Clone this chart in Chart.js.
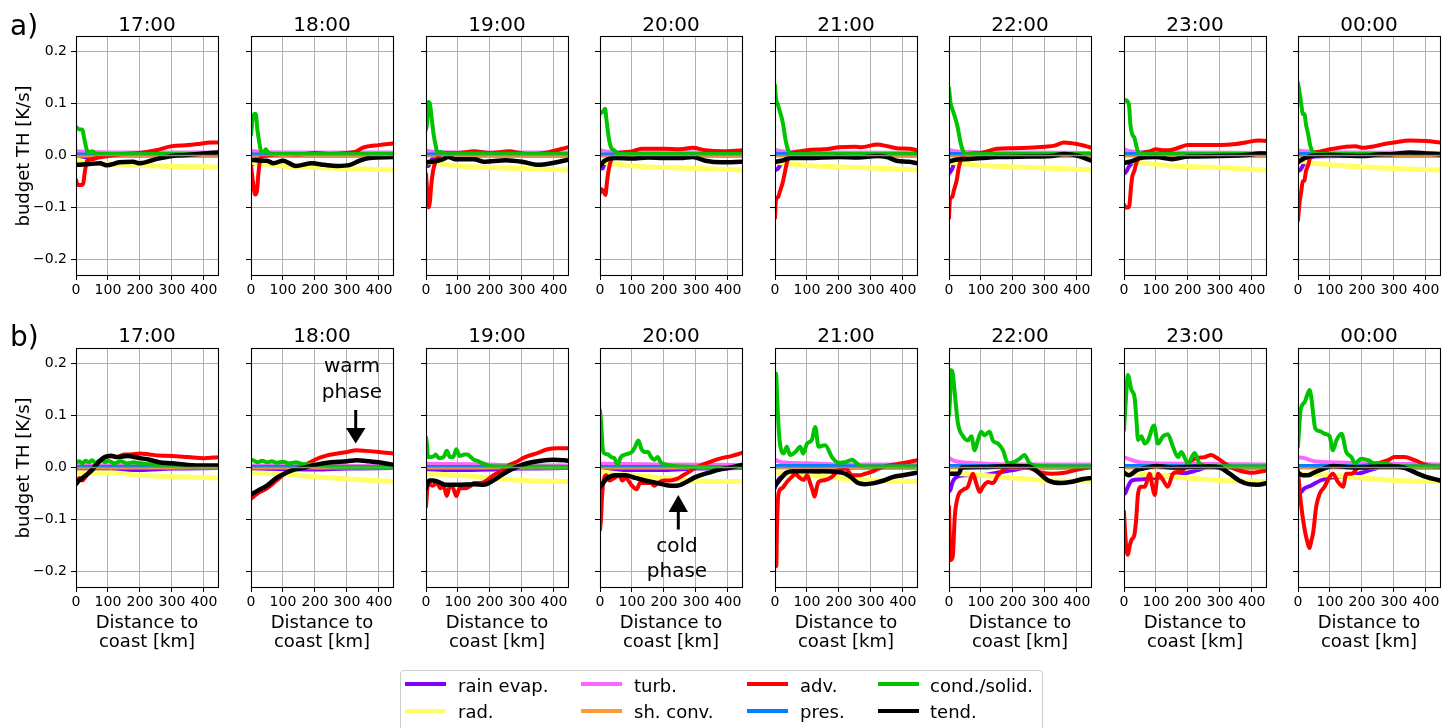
<!DOCTYPE html>
<html><head><meta charset="utf-8">
<script src="https://cdn.jsdelivr.net/npm/chart.js@4.4.0/dist/chart.umd.min.js"></script>
<style>
html,body{margin:0;padding:0;background:#fff;}
body{width:1455px;height:728px;position:relative;overflow:hidden;font-family:'DejaVu Sans',sans-serif;color:#000;}
canvas{position:absolute;}
.t{position:absolute;white-space:pre;line-height:normal;font-family:'DejaVu Sans',sans-serif;}
</style></head><body>
<script>
// ---------------- data ----------------
const TIMES = ['17:00','18:00','19:00','20:00','21:00','22:00','23:00','00:00'];
const ROW_LABELS = ['a)','b)'];
const Y_LABEL = 'budget TH [K/s]';
const X_LABEL_LINES = ['Distance to','coast [km]'];
const XTICKS = [0,100,200,300,400];
const YTICKS = [-0.2,-0.1,0,0.1,0.2];
const YTICK_LABELS = ['\u22120.2','\u22120.1','0.0','0.1','0.2'];
const X_RANGE = [0,444];
const Y_RANGE = [-0.23,0.23];
const ZERO_LINE = [[0,0],[445,0]];

// row a) -- each entry: one panel (17:00 ... 00:00), points [km, K/s]
const RAIN_A = [
 [[0,-0.002],[10,-0.003],[30,-0.005],[50,-0.001],[100,0],[445,0]],
 [[0,-0.015],[5,-0.017],[12,-0.008],[30,-0.002],[60,0],[445,0]],
 [[0,-0.02],[8,-0.02],[15,-0.01],[30,-0.003],[60,0],[445,0]],
 [[0,-0.022],[8,-0.025],[15,-0.015],[30,-0.004],[60,0],[445,0]],
 [[0,-0.028],[8,-0.026],[15,-0.02],[30,-0.008],[45,-0.002],[70,0],[445,0]],
 [[0,-0.035],[8,-0.028],[15,-0.018],[30,-0.006],[50,-0.001],[445,0]],
 [[0,-0.035],[8,-0.03],[15,-0.022],[30,-0.012],[50,-0.003],[80,0],[445,0]],
 [[0,-0.03],[8,-0.027],[15,-0.02],[30,-0.008],[50,-0.002],[445,0]]
];
const RAD_A = [
 [[0,-0.008],[30,-0.012],[60,-0.015],[150,-0.018],[300,-0.021],[445,-0.022]],
 [[0,-0.013],[30,-0.016],[100,-0.02],[200,-0.023],[300,-0.025],[445,-0.028]],
 [[0,-0.012],[30,-0.015],[100,-0.02],[200,-0.023],[300,-0.025],[445,-0.028]],
 [[0,-0.012],[30,-0.015],[100,-0.02],[200,-0.023],[300,-0.025],[445,-0.028]],
 [[0,-0.012],[30,-0.015],[100,-0.019],[200,-0.022],[300,-0.024],[445,-0.028]],
 [[0,-0.012],[30,-0.015],[100,-0.019],[200,-0.022],[300,-0.024],[445,-0.028]],
 [[0,-0.01],[40,-0.013],[150,-0.02],[300,-0.023],[445,-0.028]],
 [[0,-0.01],[50,-0.015],[150,-0.02],[300,-0.025],[445,-0.028]]
];
const TURB_A = [
 [[0,0.008],[30,0.007],[100,0.006],[445,0.006]],
 [[0,0.009],[30,0.007],[100,0.006],[445,0.006]],
 [[0,0.009],[30,0.007],[100,0.006],[445,0.006]],
 [[0,0.01],[30,0.007],[100,0.006],[445,0.006]],
 [[0,0.011],[20,0.008],[100,0.006],[445,0.005]],
 [[0,0.011],[20,0.008],[100,0.006],[445,0.005]],
 [[0,0.012],[20,0.008],[100,0.006],[445,0.005]],
 [[0,0.01],[20,0.008],[100,0.006],[445,0.005]]
];
const SHCONV_A = [
 [[0,0],[445,0]],[[0,0],[445,0]],[[0,0],[445,0]],[[0,0],[445,0]],
 [[0,0],[445,0]],[[0,0],[445,0]],[[0,0],[445,0]],[[0,0],[445,0]]
];
const PRES_A = [
 [[0,0.003],[445,0.002]],[[0,0.003],[445,0.002]],[[0,0.003],[445,0.002]],[[0,0.003],[445,0.002]],
 [[0,0.004],[445,0.002]],[[0,0.004],[445,0.002]],[[0,0.004],[445,0.002]],[[0,0.004],[445,0.002]]
];
const ADV_A = [
 [[0,-0.047],[5,-0.056],[15,-0.057],[22,-0.055],[28,-0.03],[35,-0.01],[50,-0.007],[70,-0.004],[100,-0.001],[150,0.003],[200,0.005],[250,0.01],[300,0.018],[350,0.02],[380,0.022],[420,0.025],[445,0.025]],
 [[0,-0.02],[8,-0.06],[13,-0.075],[18,-0.07],[24,-0.03],[30,-0.005],[50,0],[100,0.003],[150,0.002],[200,0.005],[250,0.003],[300,0.005],[330,0.008],[350,0.015],[400,0.02],[445,0.023]],
 [[0,-0.035],[4,-0.07],[8,-0.1],[12,-0.09],[16,-0.06],[22,-0.03],[28,-0.015],[35,-0.005],[60,0.005],[100,0.005],[150,0.008],[200,0.005],[260,0.008],[300,0.004],[330,0.003],[380,0.006],[420,0.012],[445,0.016]],
 [[0,-0.072],[5,-0.065],[12,-0.07],[17,-0.076],[22,-0.05],[28,-0.025],[35,-0.008],[45,0.002],[60,0.005],[100,0.008],[130,0.013],[200,0.013],[250,0.012],[290,0.015],[330,0.01],[380,0.008],[445,0.01]],
 [[0,-0.12],[3,-0.085],[10,-0.08],[15,-0.07],[25,-0.05],[30,-0.035],[38,-0.012],[48,0.003],[80,0.008],[100,0.01],[150,0.012],[170,0.013],[200,0.016],[250,0.017],[270,0.016],[320,0.021],[350,0.018],[380,0.014],[420,0.013],[445,0.01]],
 [[0,-0.12],[3,-0.085],[10,-0.08],[15,-0.068],[25,-0.045],[30,-0.025],[40,-0.005],[60,0.003],[100,0.005],[150,0.013],[200,0.014],[250,0.015],[300,0.017],[330,0.019],[360,0.025],[400,0.022],[445,0.015]],
 [[0,-0.095],[5,-0.1],[12,-0.1],[17,-0.095],[22,-0.06],[26,-0.04],[32,-0.03],[40,-0.012],[55,0.003],[80,0.008],[100,0.012],[120,0.01],[140,0.01],[170,0.015],[200,0.02],[250,0.02],[300,0.02],[350,0.022],[380,0.025],[420,0.029],[445,0.028]],
 [[0,-0.125],[5,-0.09],[10,-0.07],[15,-0.05],[20,-0.048],[25,-0.03],[32,-0.018],[40,0],[70,0.008],[100,0.012],[150,0.017],[180,0.018],[200,0.015],[240,0.018],[270,0.022],[300,0.025],[350,0.029],[400,0.028],[445,0.025]]
];
const COND_A = [
 [[0,0.055],[5,0.052],[12,0.05],[20,0.05],[25,0.035],[32,0.015],[38,0.004],[45,0.007],[52,0.008],[60,0.004],[80,0.003],[445,0.003]],
 [[0,0.04],[5,0.07],[10,0.08],[15,0.08],[20,0.05],[26,0.025],[32,0.008],[40,0.006],[46,0.012],[52,0.007],[65,0.003],[445,0.003]],
 [[0,0.05],[3,0.06],[8,0.103],[12,0.1],[18,0.07],[24,0.04],[30,0.02],[36,0.005],[45,0.007],[55,0.004],[445,0.003]],
 [[0,0.08],[5,0.083],[10,0.085],[16,0.09],[20,0.07],[26,0.04],[32,0.02],[38,0.012],[45,0.01],[55,0.003],[445,0.003]],
 [[0,0.135],[3,0.11],[8,0.1],[15,0.085],[22,0.07],[28,0.05],[33,0.03],[40,0.012],[50,0.003],[445,0.003]],
 [[0,0.13],[5,0.1],[10,0.09],[18,0.075],[25,0.06],[30,0.045],[36,0.025],[43,0.01],[50,0.003],[445,0.003]],
 [[0,0.105],[5,0.107],[12,0.103],[16,0.095],[20,0.06],[26,0.04],[32,0.035],[38,0.02],[45,0.006],[60,0.003],[445,0.003]],
 [[0,0.14],[5,0.12],[10,0.1],[15,0.08],[20,0.08],[25,0.06],[32,0.04],[38,0.02],[45,0.008],[60,0.003],[445,0.003]]
];
const TEND_A = [
 [[0,-0.018],[30,-0.017],[50,-0.016],[75,-0.015],[95,-0.019],[136,-0.013],[178,-0.012],[200,-0.015],[250,-0.007],[300,-0.001],[345,0.001],[400,0.004],[445,0.006]],
 [[0,-0.008],[30,-0.01],[50,-0.01],[70,-0.015],[100,-0.01],[140,-0.02],[190,-0.015],[230,-0.018],[270,-0.02],[310,-0.018],[340,-0.01],[370,-0.005],[445,-0.003]],
 [[0,-0.013],[20,-0.012],[50,-0.008],[70,-0.003],[90,-0.007],[150,-0.007],[180,-0.012],[250,-0.009],[300,-0.012],[350,-0.018],[400,-0.014],[445,-0.008]],
 [[0,-0.02],[15,-0.01],[50,-0.005],[100,-0.006],[150,-0.004],[200,-0.005],[250,-0.005],[290,-0.003],[330,-0.01],[380,-0.013],[445,-0.012]],
 [[0,-0.012],[20,-0.01],[50,-0.005],[100,-0.005],[200,-0.003],[260,-0.004],[320,-0.001],[350,-0.003],[380,-0.01],[420,-0.012],[445,-0.015]],
 [[0,-0.012],[20,-0.008],[50,-0.007],[100,-0.005],[150,-0.003],[250,-0.002],[320,-0.001],[360,0.003],[400,0],[445,-0.01]],
 [[0,-0.014],[20,-0.012],[50,-0.005],[100,-0.003],[150,-0.007],[200,-0.002],[300,-0.001],[400,0.002],[420,0.004],[445,0.004]],
 [[0,-0.013],[20,-0.005],[50,0],[100,0.001],[150,0],[200,-0.001],[250,0.002],[300,0.003],[350,0.006],[400,0.004],[445,0.002]]
];

// row b)
const RAIN_B = [
 [[0,-0.003],[100,-0.004],[110,-0.01],[120,-0.004],[200,-0.005],[300,-0.002],[445,-0.001]],
 [[0,-0.003],[200,-0.004],[300,-0.002],[445,-0.001]],
 [[0,-0.004],[100,-0.005],[200,-0.004],[300,-0.002],[445,-0.001]],
 [[0,-0.01],[20,-0.006],[50,-0.005],[200,-0.005],[300,-0.002],[445,-0.001]],
 [[0,-0.04],[5,-0.03],[15,-0.02],[40,-0.01],[100,-0.005],[120,-0.012],[150,-0.005],[200,-0.003],[250,0],[445,0]],
 [[0,-0.045],[3,-0.045],[10,-0.03],[20,-0.02],[50,-0.015],[100,-0.015],[150,-0.01],[200,-0.005],[250,0],[445,0]],
 [[0,-0.05],[3,-0.05],[10,-0.04],[25,-0.025],[50,-0.023],[100,-0.02],[150,-0.015],[200,-0.01],[230,-0.005],[260,0],[445,0]],
 [[0,-0.05],[5,-0.05],[20,-0.04],[40,-0.035],[70,-0.025],[100,-0.02],[130,-0.018],[200,-0.01],[230,-0.004],[260,0],[445,0]]
];
const RAD_B = [
 [[0,-0.01],[100,-0.01],[200,-0.015],[300,-0.018],[445,-0.02]],
 [[0,-0.01],[100,-0.012],[200,-0.018],[300,-0.022],[445,-0.027]],
 [[0,-0.012],[100,-0.015],[200,-0.02],[300,-0.025],[445,-0.027]],
 [[0,-0.008],[100,-0.015],[200,-0.02],[300,-0.026],[445,-0.027]],
 [[0,-0.01],[100,-0.015],[200,-0.02],[300,-0.025],[445,-0.027]],
 [[0,-0.01],[100,-0.015],[200,-0.02],[300,-0.025],[445,-0.027]],
 [[0,-0.01],[100,-0.015],[200,-0.02],[300,-0.025],[445,-0.027]],
 [[0,-0.012],[100,-0.015],[200,-0.02],[300,-0.025],[445,-0.027]]
];
const TURB_B = [
 [[0,0.004],[200,0.004],[445,0.003]],
 [[0,0.004],[445,0.003]],
 [[0,0.007],[200,0.006],[300,0.004],[445,0.004]],
 [[0,0.007],[200,0.006],[445,0.005]],
 [[0,0.015],[20,0.01],[100,0.008],[200,0.006],[445,0.006]],
 [[0,0.018],[20,0.012],[100,0.008],[200,0.006],[445,0.006]],
 [[0,0.02],[20,0.015],[50,0.01],[100,0.008],[200,0.007],[445,0.006]],
 [[0,0.02],[20,0.018],[50,0.012],[100,0.01],[200,0.008],[445,0.006]]
];
const SHCONV_B = [
 [[0,0],[445,0]],[[0,0],[445,0]],[[0,0],[445,0]],[[0,0],[445,0]],
 [[0,0],[445,0]],[[0,0],[445,0]],[[0,0],[445,0]],[[0,0],[445,0]]
];
const PRES_B = [
 [[0,0.002],[445,0.002]],[[0,0.002],[445,0.002]],[[0,0.002],[445,0.002]],[[0,0.002],[445,0.002]],
 [[0,0.004],[150,0.004],[300,0.003],[445,0.003]],[[0,0.004],[150,0.004],[300,0.003],[445,0.003]],
 [[0,0.004],[150,0.004],[300,0.003],[445,0.003]],[[0,0.004],[150,0.004],[300,0.003],[445,0.003]]
];
const ADV_B = [
 [[0,-0.03],[10,-0.02],[20,-0.025],[30,-0.018],[40,-0.01],[60,0.005],[75,0.013],[90,0.02],[110,0.023],[130,0.02],[150,0.025],[170,0.025],[200,0.027],[230,0.025],[260,0.023],[300,0.022],[350,0.02],[400,0.018],[445,0.02]],
 [[0,-0.06],[20,-0.05],[50,-0.04],[80,-0.025],[110,-0.01],[140,-0.002],[170,0.005],[200,0.015],[230,0.022],[270,0.027],[300,0.03],[330,0.033],[360,0.032],[400,0.03],[445,0.027]],
 [[0,-0.075],[3,-0.05],[6,-0.03],[20,-0.035],[35,-0.03],[45,-0.04],[55,-0.035],[65,-0.055],[75,-0.035],[85,-0.04],[95,-0.055],[105,-0.04],[120,-0.04],[140,-0.035],[150,-0.03],[170,-0.03],[190,-0.025],[210,-0.015],[240,-0.005],[260,0.005],[280,0.01],[310,0.02],[350,0.028],[380,0.035],[410,0.037],[445,0.037]],
 [[0,-0.12],[3,-0.1],[6,-0.06],[10,-0.03],[20,-0.015],[30,-0.025],[45,-0.02],[60,-0.015],[70,-0.025],[80,-0.02],[100,-0.035],[115,-0.042],[125,-0.03],[140,-0.03],[160,-0.03],[170,-0.035],[180,-0.03],[200,-0.025],[220,-0.025],[240,-0.022],[260,-0.015],[280,-0.008],[300,0],[340,0.01],[380,0.018],[410,0.022],[445,0.028]],
 [[0,-0.19],[4,-0.19],[6,-0.12],[11,-0.05],[22,-0.04],[37,-0.028],[53,-0.018],[64,-0.012],[74,-0.018],[90,-0.024],[100,-0.015],[110,-0.03],[118,-0.045],[124,-0.056],[130,-0.04],[136,-0.028],[157,-0.024],[178,-0.018],[199,-0.005],[220,-0.002],[241,-0.015],[262,-0.015],[282,-0.012],[303,-0.008],[324,-0.002],[355,0.004],[397,0.008],[445,0.014]],
 [[0,-0.075],[3,-0.15],[5,-0.178],[12,-0.17],[18,-0.095],[28,-0.056],[44,-0.043],[59,-0.037],[75,-0.012],[85,-0.03],[96,-0.047],[106,-0.037],[122,-0.028],[137,-0.03],[153,-0.015],[169,-0.005],[184,0],[205,0.001],[236,0],[257,-0.002],[278,-0.008],[320,-0.012],[361,-0.01],[403,-0.004],[445,0.001]],
 [[0,-0.085],[5,-0.14],[12,-0.168],[18,-0.15],[23,-0.14],[33,-0.128],[38,-0.1],[44,-0.05],[54,-0.037],[65,-0.037],[80,-0.012],[90,-0.04],[96,-0.053],[106,-0.012],[122,-0.024],[137,-0.037],[153,-0.012],[169,-0.008],[185,-0.005],[200,0.008],[221,0.017],[252,0.02],[273,0.024],[294,0.017],[325,0.004],[356,-0.005],[398,-0.01],[445,-0.006]],
 [[0,-0.005],[8,-0.063],[21,-0.12],[30,-0.145],[36,-0.155],[42,-0.14],[47,-0.127],[57,-0.075],[68,-0.05],[83,-0.037],[99,-0.018],[109,-0.012],[125,-0.028],[141,-0.037],[151,-0.012],[167,-0.012],[188,0],[219,0.004],[250,0.008],[281,0.014],[302,0.02],[333,0.02],[365,0.014],[406,0.004],[445,0.001]]
];
const COND_B = [
 [[0,0.01],[10,0.012],[20,0.008],[30,0.013],[40,0.01],[50,0.014],[60,0.009],[70,0.012],[80,0.015],[90,0.01],[100,0.013],[120,0.008],[140,0.012],[160,0.008],[180,0.01],[200,0.008],[250,0.005],[300,0.003],[445,0.002]],
 [[0,0.015],[10,0.013],[20,0.01],[35,0.013],[50,0.01],[65,0.012],[80,0.009],[100,0.011],[120,0.008],[140,0.01],[160,0.007],[180,0.006],[200,0.005],[250,0.002],[445,0.001]],
 [[0,0.058],[3,0.045],[6,0.02],[15,0.02],[25,0.022],[30,0.025],[40,0.018],[55,0.02],[65,0.032],[75,0.02],[85,0.02],[95,0.035],[105,0.022],[120,0.025],[130,0.025],[140,0.02],[150,0.015],[160,0.013],[170,0.01],[190,0.005],[200,0.003],[260,0.002],[445,0.001]],
 [[0,0.11],[3,0.09],[8,0.04],[12,0.028],[25,0.025],[35,0.02],[45,0.018],[55,0.005],[65,0.02],[80,0.025],[100,0.03],[110,0.04],[120,0.052],[130,0.035],[140,0.03],[150,0.03],[160,0.02],[170,0.015],[180,0.02],[190,0.01],[210,0.005],[250,0.002],[445,0.001]],
 [[0,0.15],[3,0.181],[7,0.13],[12,0.07],[17,0.04],[27,0.027],[37,0.04],[47,0.024],[64,0.03],[79,0.04],[88,0.027],[100,0.046],[115,0.053],[126,0.078],[136,0.04],[157,0.043],[178,0.02],[199,0.009],[220,0.01],[241,0.015],[261,0.005],[280,0.002],[445,0.002]],
 [[0,0.1],[3,0.13],[7,0.187],[12,0.18],[20,0.13],[28,0.085],[44,0.06],[59,0.052],[70,0.06],[80,0.033],[90,0.052],[101,0.069],[111,0.062],[127,0.069],[137,0.052],[153,0.046],[169,0.033],[184,0.008],[205,0.011],[221,0.017],[236,0.024],[252,0.008],[278,0.003],[445,0.002]],
 [[0,0.072],[7,0.142],[12,0.178],[23,0.15],[33,0.135],[38,0.1],[44,0.053],[54,0.06],[65,0.046],[75,0.052],[94,0.081],[106,0.046],[122,0.06],[137,0.064],[153,0.04],[169,0.02],[179,0.03],[200,0.008],[221,0.028],[236,0.008],[260,0.003],[445,0.002]],
 [[0,0.04],[8,0.11],[21,0.126],[36,0.149],[42,0.133],[48,0.1],[54,0.075],[68,0.07],[83,0.065],[99,0.06],[109,0.033],[120,0.052],[136,0.065],[151,0.03],[167,0.02],[178,0.008],[198,0.017],[219,0.014],[240,0.008],[271,0.008],[302,0.003],[445,0.002]]
];
const TEND_B = [
 [[0,-0.032],[10,-0.025],[20,-0.02],[50,-0.005],[70,0.01],[90,0.02],[110,0.022],[130,0.02],[160,0.022],[200,0.018],[230,0.015],[260,0.01],[300,0.008],[350,0.005],[400,0.004],[445,0.004]],
 [[0,-0.052],[20,-0.045],[50,-0.035],[80,-0.02],[110,-0.01],[140,-0.003],[170,0],[200,0.005],[250,0.01],[300,0.012],[330,0.014],[370,0.012],[400,0.01],[445,0.005]],
 [[0,-0.04],[10,-0.025],[20,-0.025],[40,-0.028],[60,-0.033],[100,-0.033],[150,-0.032],[180,-0.033],[210,-0.025],[240,-0.013],[270,-0.003],[300,0.005],[330,0.01],[360,0.013],[400,0.015],[445,0.013]],
 [[0,-0.038],[20,-0.022],[50,-0.015],[80,-0.015],[110,-0.02],[140,-0.025],[180,-0.03],[220,-0.035],[240,-0.035],[270,-0.028],[300,-0.018],[340,-0.01],[380,-0.003],[410,0],[445,0.005]],
 [[0,-0.035],[20,-0.02],[35,-0.01],[60,-0.007],[100,-0.007],[150,-0.007],[190,-0.008],[220,-0.012],[240,-0.02],[260,-0.03],[280,-0.032],[310,-0.03],[340,-0.025],[370,-0.018],[400,-0.015],[445,-0.01]],
 [[0,-0.012],[30,-0.012],[40,0],[100,0.001],[200,0.003],[250,0.002],[280,-0.01],[310,-0.025],[350,-0.03],[380,-0.028],[420,-0.022],[445,-0.02]],
 [[0,-0.01],[15,-0.015],[40,-0.005],[60,-0.002],[100,0.003],[150,0],[200,0.001],[270,0.002],[300,0],[330,-0.012],[360,-0.025],[390,-0.032],[420,-0.033],[445,-0.03]],
 [[0,-0.01],[15,-0.015],[30,-0.015],[50,-0.01],[80,-0.002],[110,0.003],[150,0.001],[200,0],[250,0.002],[300,0.002],[330,0],[360,-0.008],[400,-0.018],[445,-0.025]]
];

// ---------------- styling / layout ----------------
const SERIES = [
  {name:'rain evap.', color:'#7f00ff', width:4,   order:8, rows:[RAIN_A, RAIN_B]},
  {name:'rad.',       color:'#ffff66', width:5,   order:7, rows:[RAD_A, RAD_B]},
  {name:'turb.',      color:'#ff66ff', width:4,   order:6, rows:[TURB_A, TURB_B]},
  {name:'sh. conv.',  color:'#ff9933', width:4,   order:5, rows:[SHCONV_A, SHCONV_B]},
  {name:'adv.',       color:'#ff0000', width:4,   order:4, rows:[ADV_A, ADV_B]},
  {name:'pres.',      color:'#0080ff', width:3,   order:3, rows:[PRES_A, PRES_B]},
  {name:'cond./solid.',color:'#00c400',width:4,   order:2, rows:[COND_A, COND_B]},
  {name:'tend.',      color:'#000000', width:4.5, order:1, rows:[TEND_A, TEND_B]}
];
const PANEL_LEFT = [76,251,426,600,775,949,1124,1298];
const ROW_TOP = [36,348];
const PW = 142, PH = 239;
const PAD_L = 62, PAD_T = 14, PAD_R = 16, PAD_B = 32;
const FONT = "'DejaVu Sans', sans-serif";
Chart.defaults.font.family = FONT;
Chart.defaults.color = '#000';

const framePlugin = {
  id: 'frame',
  afterDatasetsDraw(chart) {
    const a = chart.chartArea, c = chart.ctx;
    c.save(); c.strokeStyle = '#000'; c.lineWidth = 1.1;
    c.strokeRect(a.left + 0.5, a.top + 0.5, PW, PH);
    c.restore();
  }
};

function toXY(p){ return p.map(q => ({x:q[0], y:q[1]})); }

for (let r = 0; r < 2; r++) {
  for (let i = 0; i < 8; i++) {
    const cv = document.createElement('canvas');
    const W = PAD_L + PW + PAD_R, H = PAD_T + PH + PAD_B;
    cv.width = W; cv.height = H;
    cv.style.left = (PANEL_LEFT[i] - PAD_L) + 'px';
    cv.style.top = (ROW_TOP[r] - PAD_T) + 'px';
    cv.style.width = W + 'px'; cv.style.height = H + 'px';
    document.body.appendChild(cv);
    const datasets = SERIES.map(s => ({
      label: s.name, data: toXY(s.rows[r][i]), borderColor: s.color, backgroundColor: s.color,
      borderWidth: s.width, pointRadius: 0, fill: false, order: s.order, clip: 0,
      cubicInterpolationMode: 'monotone', borderCapStyle: 'round', borderJoinStyle: 'round'
    }));
    datasets.push({label:'zero', data: toXY(ZERO_LINE), borderColor:'#8c8c8c', borderWidth:1.5,
      pointRadius:0, fill:false, order:0, clip:0});
    new Chart(cv, {
      type: 'line',
      data: { datasets },
      options: {
        responsive: false, animation: false, devicePixelRatio: 1, events: [],
        layout: { padding: { left: 0, top: PAD_T, right: PAD_R, bottom: 0 } },
        plugins: { legend: {display:false}, tooltip: {enabled:false}, title:{display:false} },
        scales: {
          x: {
            type: 'linear', min: X_RANGE[0], max: X_RANGE[1],
            afterBuildTicks: s => { s.ticks = XTICKS.map(v => ({value: v})); },
            afterFit: s => { s.height = PAD_B; },
            border: { display: false },
            grid: { color: '#b0b0b0', lineWidth: 1, drawTicks: true, tickLength: 5, tickColor: '#000', tickWidth: 1 },
            ticks: { font: { size: 14, family: FONT }, color: '#000', padding: 2, maxRotation: 0, autoSkip: false,
                     callback: v => String(v) }
          },
          y: {
            type: 'linear', min: Y_RANGE[0], max: Y_RANGE[1],
            afterBuildTicks: s => { s.ticks = YTICKS.map(v => ({value: v})); },
            afterFit: s => { s.width = PAD_L; },
            border: { display: false },
            grid: { color: '#b0b0b0', lineWidth: 1, drawTicks: true, tickLength: 5, tickColor: '#000', tickWidth: 1 },
            ticks: { display: i === 0, font: { size: 14, family: FONT }, color: '#000', padding: 4, autoSkip: false,
                     callback: v => YTICK_LABELS[YTICKS.indexOf(v)] }
          }
        }
      },
      plugins: [framePlugin]
    });
  }
}

// ---------------- text ----------------
function txt(s, x, base, size, center) {
  const d = document.createElement('div');
  d.className = 't'; d.textContent = s;
  d.style.fontSize = size + 'px';
  d.style.top = (base - 0.928 * size) + 'px';
  d.style.left = x + 'px';
  if (center) d.style.transform = 'translateX(-50%)';
  document.body.appendChild(d);
}
const TITLE_BASE = [30.7, 341.7];
for (let r = 0; r < 2; r++) {
  for (let i = 0; i < 8; i++) txt(TIMES[i], PANEL_LEFT[i] + PW / 2, TITLE_BASE[r], 20, true);
}
txt(ROW_LABELS[0], 10, 35, 28, false);
txt(ROW_LABELS[1], 10, 346, 28, false);
[155.7, 467.5].forEach(cy => {
  const d = document.createElement('div');
  d.className = 't'; d.textContent = Y_LABEL; d.style.fontSize = '18px';
  d.style.left = '21.5px'; d.style.top = cy + 'px';
  d.style.transform = 'translate(-50%,-50%) rotate(-90deg)';
  document.body.appendChild(d);
});
for (let i = 0; i < 8; i++) {
  txt(X_LABEL_LINES[0], PANEL_LEFT[i] + PW / 2, 627.3, 18, true);
  txt(X_LABEL_LINES[1], PANEL_LEFT[i] + PW / 2, 647, 18, true);
}
// annotations
txt('warm', 352, 372, 20, true);
txt('phase', 352, 398, 20, true);
txt('cold', 677, 551.7, 20, true);
txt('phase', 677, 576.7, 20, true);
const svgNS = 'http://www.w3.org/2000/svg';
const svg = document.createElementNS(svgNS, 'svg');
svg.setAttribute('width', 1455); svg.setAttribute('height', 728);
svg.style.position = 'absolute'; svg.style.left = '0'; svg.style.top = '0';
svg.innerHTML =
  '<line x1="355.7" y1="410" x2="355.7" y2="432" stroke="#000" stroke-width="3"/>' +
  '<polygon points="346,428 365.5,428 355.7,443.5" fill="#000"/>' +
  '<line x1="678.3" y1="529.5" x2="678.3" y2="508" stroke="#000" stroke-width="3"/>' +
  '<polygon points="668.6,512 688,512 678.3,495" fill="#000"/>';
document.body.appendChild(svg);

// ---------------- legend ----------------
const lg = document.createElement('div');
lg.style.cssText = 'position:absolute;left:400px;top:670px;width:641px;height:80px;border:1px solid #cccccc;border-radius:4px;background:#fff;';
document.body.appendChild(lg);
const LEG_LINE_X = [405, 581, 747, 878];
const LEG_TEXT_X = [458, 634, 800, 930];
const LEG_ROW_Y = [684, 711.3];
const LEG_ROW_BASE = [691.3, 718];
SERIES.forEach((s, k) => {
  const col = Math.floor(k / 2), row = k % 2;
  const ln = document.createElement('div');
  ln.style.cssText = 'position:absolute;width:41px;height:4px;background:' + s.color + ';left:' + LEG_LINE_X[col] + 'px;top:' + (LEG_ROW_Y[row] - 2) + 'px;';
  document.body.appendChild(ln);
  txt(s.name, LEG_TEXT_X[col], LEG_ROW_BASE[row], 18, false);
});
</script>
</body></html>
